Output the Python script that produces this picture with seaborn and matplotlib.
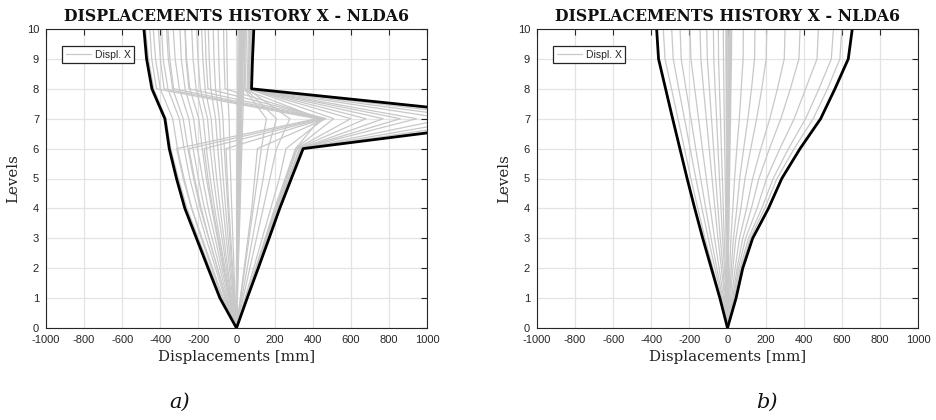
import numpy as np
import pandas as pd
import matplotlib
matplotlib.use("Agg")
import matplotlib.pyplot as plt
from matplotlib.lines import Line2D
import seaborn as sns

# Storey levels (ground = 0, roof = 10)
levels = [0, 1, 2, 3, 4, 5, 6, 7, 8, 9, 10]

# ---------------- case a) : displacement snapshots [mm] ----------------
a_near_zero = [
    [0, 3, 5, 8, 10, 12, 15, 18, 20, 22, 24],
    [0, 1, 3, 5, 7, 9, 12, 14, 17, 19, 20],
    [0, 4, 8, 12, 16, 19, 23, 27, 30, 32, 33],
    [0, 2, 4, 6, 9, 12, 16, 25, 28, 30, 31],
    [0, 0, 1, 2, 3, 4, 6, 10, 12, 14, 15],
    [0, 5, 9, 14, 19, 23, 28, 33, 38, 41, 43],
    [0, 1, 2, 4, 5, 7, 9, 11, 13, 14, 16],
    [0, 2, 5, 7, 10, 13, 17, 21, 24, 26, 27],
    [0, 3, 6, 9, 13, 16, 20, 24, 27, 29, 30],
    [0, 0, 0, 1, 1, 2, 3, 5, 6, 7, 8],
]
a_negative = [
    [0, -80, -140, -200, -260, -305, -345, -370, -435, -462, -478],
    [0, -70, -125, -180, -235, -275, -310, -335, -400, -425, -437],
    [0, -62, -110, -160, -205, -245, -275, -300, -360, -385, -393],
    [0, -55, -100, -145, -190, -225, -255, -280, -335, -358, -367],
    [0, -48, -88, -128, -168, -200, -228, -250, -300, -322, -332],
    [0, -42, -78, -112, -148, -178, -205, -225, -270, -290, -297],
    [0, -38, -70, -100, -130, -158, -180, -198, -245, -262, -270],
    [0, -32, -60, -88, -115, -138, -158, -175, -212, -228, -235],
    [0, -28, -52, -76, -100, -120, -138, -152, -190, -202, -209],
    [0, -25, -46, -66, -86, -104, -120, -133, -165, -177, -183],
    [0, -20, -37, -54, -70, -85, -98, -110, -135, -143, -148],
    [0, -16, -30, -44, -57, -70, -81, -90, -110, -118, -122],
    [0, -13, -24, -35, -45, -55, -64, -71, -87, -93, -96],
    [0, -7, -13, -19, -25, -30, -35, -39, -47, -50, -52],
]
a_crossing = [
    [0, -75, -130, -185, -235, -280, -314, 420, -420, -445, -455],
    [0, -55, -100, -145, -185, -220, -250, 440, -380, -400, -410],
    [0, -35, -65, -95, -125, -150, -170, 455, -330, -350, -360],
    [0, -10, -20, -30, -40, -48, -55, 465, -250, -265, -270],
    [0, 20, 40, 60, 80, 95, 110, 470, -150, -160, -165],
    [0, 45, 90, 135, 180, 225, 260, 460, -60, -65, -68],
    [0, 55, 110, 160, 210, 260, 310, 440, 30, 35, 38],
]
a_storey7 = [
    [0, 50, 100, 150, 200, 255, 310, 510, 60, 65, 70],
    [0, 51, 102, 154, 205, 260, 315, 600, 62, 67, 72],
    [0, 52, 105, 158, 210, 265, 320, 680, 65, 70, 75],
    [0, 53, 108, 162, 215, 272, 330, 770, 68, 74, 78],
    [0, 54, 109, 164, 218, 275, 333, 860, 69, 75, 79],
    [0, 54, 110, 165, 220, 278, 335, 945, 70, 76, 80],
    [0, 55, 111, 167, 223, 282, 340, 1100, 72, 78, 84],
    [0, 55, 112, 168, 225, 285, 344, 1250, 74, 80, 86],
    [0, 56, 113, 170, 226, 287, 347, 1400, 76, 82, 88],
    [0, 56, 114, 171, 227, 288, 350, 1520, 78, 84, 90],
    [0, 35, 70, 105, 140, 175, 210, 280, 55, 60, 62],
    [0, 28, 56, 84, 112, 140, 165, 210, 45, 50, 52],
    [0, 22, 44, 66, 88, 110, 130, 157, 40, 44, 46],
]
a_env_min = [0, -87, -149, -210, -271, -315, -353, -376, -444, -472, -486]
a_env_max = [0, 56, 114, 171, 227, 288, 350, 1590, 79, 84, 91]

# ---------------- case b) : displacement snapshots [mm] ----------------
b_positive = [
    [0, 40, 72, 120, 195, 260, 350, 450, 525, 590, 600],
    [0, 36, 66, 110, 180, 240, 320, 410, 480, 545, 556],
    [0, 32, 58, 95, 155, 205, 275, 350, 410, 470, 477],
    [0, 28, 50, 80, 125, 165, 220, 280, 330, 375, 381],
    [0, 22, 40, 63, 100, 132, 175, 222, 262, 298, 302],
    [0, 16, 28, 44, 70, 92, 122, 153, 180, 203, 206],
    [0, 11, 20, 31, 49, 64, 85, 107, 126, 142, 144],
    [0, 7, 12, 18, 28, 37, 49, 62, 72, 82, 83],
]
b_near_zero = [
    [0, -1, -2, -3, -4, -5, -6, -7, -7, -8, -8],
    [0, 0, 0, -1, -1, -1, -2, -2, -2, -2, -2],
    [0, 1, 1, 2, 2, 3, 3, 3, 4, 4, 4],
    [0, 1, 2, 3, 4, 5, 6, 7, 8, 9, 10],
    [0, 2, 3, 5, 6, 8, 10, 12, 14, 15, 16],
    [0, 2, 4, 6, 8, 11, 13, 16, 18, 21, 22],
    [0, 0, -1, -2, -2, -3, -3, -4, -4, -5, -5],
    [0, 1, 2, 4, 5, 6, 8, 9, 11, 12, 13],
    [0, 2, 3, 4, 6, 7, 9, 10, 11, 12, 12],
]
b_negative = [
    [0, -36, -77, -118, -156, -192, -226, -260, -294, -328, -337],
    [0, -31, -66, -101, -134, -166, -196, -226, -256, -285, -293],
    [0, -26, -56, -86, -114, -141, -167, -192, -218, -243, -249],
    [0, -21, -44, -68, -90, -111, -132, -152, -172, -192, -197],
    [0, -15, -32, -50, -66, -81, -96, -111, -126, -140, -144],
    [0, -11, -24, -38, -50, -62, -73, -84, -95, -106, -109],
    [0, -8, -16, -26, -34, -42, -50, -57, -65, -72, -74],
    [0, -5, -11, -17, -22, -27, -32, -37, -42, -47, -48],
    [0, -2, -5, -8, -10, -12, -15, -17, -19, -21, -22],
]
b_env_min = [0, -40, -85, -130, -172, -212, -250, -288, -325, -362, -372]
b_env_max = [0, 45, 80, 132, 215, 285, 381, 489, 564, 634, 655]

GREY = "#c8c8c8"
AXCOL = "#262626"
SERIF = ["DejaVu Serif"]
SANS = ["Liberation Sans", "DejaVu Sans"]


def to_frame(profiles):
    rows = []
    for k, prof in enumerate(profiles):
        for lev, d in zip(levels, prof):
            rows.append({"snap": k, "level": lev, "disp": d})
    return pd.DataFrame(rows)


def draw_panel(ax, snapshots, env_min, env_max):
    hist = to_frame(snapshots)
    sns.lineplot(data=hist, x="disp", y="level", units="snap", estimator=None,
                 sort=False, orient="y", color=GREY, lw=0.9, ax=ax, legend=False)
    env = to_frame([env_min, env_max])
    sns.lineplot(data=env, x="disp", y="level", units="snap", estimator=None,
                 sort=False, orient="y", color="black", lw=2.0, ax=ax, legend=False)

    ax.set_xlim(-1000, 1000)
    ax.set_ylim(0, 10)
    ax.set_xticks(np.arange(-1000, 1001, 200))
    ax.set_yticks(np.arange(0, 11, 1))
    ax.grid(True, color="#e3e3e3", lw=0.9)
    ax.set_axisbelow(True)
    for s in ax.spines.values():
        s.set_visible(True)
        s.set_color(AXCOL)
        s.set_linewidth(0.8)
    ax.tick_params(direction="in", length=4, width=0.8, colors=AXCOL,
                   top=True, right=True, labelsize=8, pad=5)
    for lab in ax.get_xticklabels() + ax.get_yticklabels():
        lab.set_family(SANS)

    ax.set_title("DISPLACEMENTS HISTORY X - NLDA6", family=SERIF,
                 fontweight="bold", fontsize=11.3, pad=6, color="#111111")
    ax.set_xlabel("Displacements [mm]", family=SERIF, fontsize=10.8,
                  labelpad=4, color="#222222")
    ax.set_ylabel("Levels", family=SERIF, fontsize=10.8, labelpad=5,
                  color="#222222")

    leg = ax.legend(handles=[Line2D([], [], color=GREY, lw=0.9)],
                    labels=["Displ. X"], loc="upper left",
                    bbox_to_anchor=(0.028, 0.96), fancybox=False,
                    framealpha=1, edgecolor=AXCOL, handlelength=2.4,
                    handletextpad=0.4, borderpad=0.35,
                    prop={"family": SANS, "size": 7.5})
    leg.get_frame().set_linewidth(0.9)


sns.set_theme(style="white")
plt.rcParams["font.family"] = ["DejaVu Sans"]
plt.rcParams["axes.unicode_minus"] = False

fig = plt.figure(figsize=(9.37, 4.2), dpi=100)
ax_a = fig.add_axes([46 / 937, 92 / 420, 381 / 937, 299 / 420])
ax_b = fig.add_axes([537 / 937, 92 / 420, 381 / 937, 299 / 420])

draw_panel(ax_a, a_near_zero + a_negative + a_crossing + a_storey7,
           a_env_min, a_env_max)
draw_panel(ax_b, b_positive + b_near_zero + b_negative,
           b_env_min, b_env_max)

# sub-figure captions
for xc, cap in [(180 / 937, "a)"), (767 / 937, "b)")]:
    fig.text(xc, 18 / 420, cap, ha="center", va="center", family=SERIF,
             style="italic", fontsize=15, color="#111111")

fig.savefig("out.png", dpi=100, facecolor="white")
